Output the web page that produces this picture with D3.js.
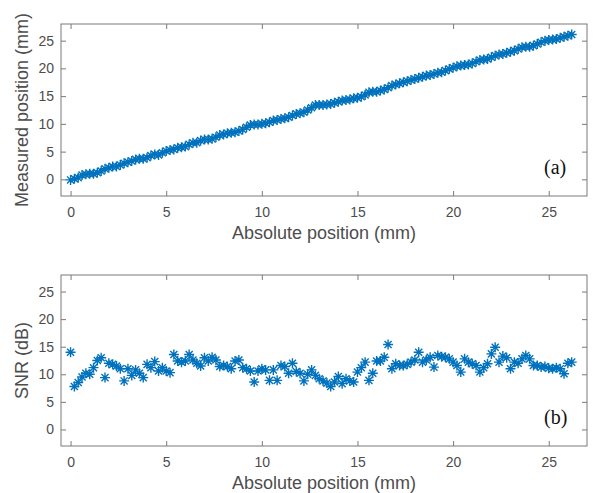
<!DOCTYPE html>
<html>
<head>
<meta charset="utf-8">
<script src="https://cdn.jsdelivr.net/npm/d3@7"></script>
<style>
    body { margin: 0; background: #fff; }
    svg { display: block; }
    .tick text { font-family: "Liberation Sans", Arial, sans-serif; font-size: 14px; fill: #4d4d4d; }
    .tick line { stroke: #7a7a7a; }
    .axis-title { font-family: "Liberation Sans", Arial, sans-serif; font-size: 18px; fill: #4d4d4d; }
    .panel-tag { font-family: "Liberation Serif", "Times New Roman", serif; font-size: 20px; fill: #111; }
</style>
</head>
<body>
<div id="chart"></div>
<script>
// absolute position (mm), shared by both panels
const absPos = [
    0.0, 0.2, 0.4, 0.6, 0.8, 1.0, 1.2, 1.4, 1.6, 1.8, 2.0, 2.2, 2.4, 2.6, 2.8, 3.0, 3.2, 3.4, 3.6, 3.8,
    4.0, 4.2, 4.4, 4.6, 4.8, 5.0, 5.2, 5.4, 5.6, 5.8, 6.0, 6.2, 6.4, 6.6, 6.8, 7.0, 7.2, 7.4, 7.6, 7.8,
    8.0, 8.2, 8.4, 8.6, 8.8, 9.0, 9.2, 9.4, 9.6, 9.8, 10.0, 10.2, 10.4, 10.6, 10.8, 11.0, 11.2, 11.4, 11.6, 11.8,
    12.0, 12.2, 12.4, 12.6, 12.8, 13.0, 13.2, 13.4, 13.6, 13.8, 14.0, 14.2, 14.4, 14.6, 14.8, 15.0, 15.2, 15.4, 15.6, 15.8,
    16.0, 16.2, 16.4, 16.6, 16.8, 17.0, 17.2, 17.4, 17.6, 17.8, 18.0, 18.2, 18.4, 18.6, 18.8, 19.0, 19.2, 19.4, 19.6, 19.8,
    20.0, 20.2, 20.4, 20.6, 20.8, 21.0, 21.2, 21.4, 21.6, 21.8, 22.0, 22.2, 22.4, 22.6, 22.8, 23.0, 23.2, 23.4, 23.6, 23.8,
    24.0, 24.2, 24.4, 24.6, 24.8, 25.0, 25.2, 25.4, 25.6, 25.8, 26.0, 26.2
]

// (a) measured position (mm)
const measuredPos = [
    -0.1, 0.1, 0.3, 0.8, 0.9, 1.0, 1.0, 1.2, 1.5, 1.9, 2.1, 2.3, 2.3, 2.6, 2.9, 3.1, 3.3, 3.6, 3.7, 3.7,
    3.9, 4.3, 4.5, 4.4, 4.8, 5.1, 5.3, 5.4, 5.7, 5.8, 5.9, 6.3, 6.6, 6.6, 7.0, 7.2, 7.2, 7.3, 7.6, 8.0,
    8.1, 8.3, 8.4, 8.5, 8.7, 9.0, 9.4, 9.8, 9.9, 9.9, 10.0, 10.1, 10.3, 10.6, 10.7, 10.9, 11.0, 11.2, 11.5, 11.8,
    11.9, 12.1, 12.5, 12.9, 13.4, 13.4, 13.4, 13.5, 13.6, 13.8, 14.0, 14.2, 14.3, 14.4, 14.6, 14.7, 14.9, 15.2, 15.7, 15.8,
    15.8, 16.0, 16.2, 16.5, 16.9, 17.1, 17.3, 17.5, 17.7, 17.9, 18.1, 18.3, 18.5, 18.7, 18.8, 19.0, 19.2, 19.3, 19.6, 19.9,
    20.1, 20.4, 20.5, 20.6, 20.7, 20.9, 21.2, 21.5, 21.6, 21.7, 22.0, 22.3, 22.5, 22.6, 22.8, 23.0, 23.2, 23.5, 23.8, 23.9,
    23.9, 24.1, 24.4, 24.7, 25.0, 25.1, 25.2, 25.3, 25.5, 25.7, 25.9, 26.1
]

// (b) SNR (dB)
const snrDb = [
    14.0, 7.8, 8.5, 9.5, 10.2, 10.0, 11.2, 12.5, 13.0, 9.4, 12.0, 11.8, 11.5, 11.0, 8.8, 11.0, 9.8, 10.8, 10.2, 9.4,
    11.8, 11.2, 12.3, 10.6, 11.2, 10.6, 10.3, 13.6, 12.4, 12.2, 12.4, 13.6, 12.6, 12.0, 11.5, 13.0, 12.4, 13.1, 12.6, 11.4,
    11.6, 11.4, 11.0, 12.4, 12.6, 11.2, 11.0, 10.6, 8.6, 10.6, 11.0, 10.8, 8.9, 10.8, 8.9, 11.6, 11.4, 10.2, 12.0, 10.5,
    10.2, 8.8, 10.0, 10.8, 9.8, 9.2, 8.8, 8.4, 7.8, 8.6, 9.6, 8.3, 9.2, 8.8, 8.6, 10.4, 11.2, 12.2, 8.9, 10.2,
    12.4, 12.4, 13.1, 15.4, 11.0, 11.9, 11.6, 11.6, 11.8, 12.2, 12.6, 14.0, 12.2, 12.6, 13.1, 11.3, 13.4, 13.2, 13.1, 12.8,
    12.2, 11.6, 10.4, 12.8, 12.2, 11.9, 11.6, 10.4, 11.2, 11.9, 13.7, 14.9, 12.2, 13.3, 13.0, 11.0, 12.2, 12.0, 12.8, 13.4,
    12.8, 11.6, 11.6, 11.3, 11.4, 11.1, 11.0, 11.2, 11.0, 10.1, 12.0, 12.2
]

const xTicks = [0, 5, 10, 15, 20, 25]
const yTicks = [0, 5, 10, 15, 20, 25]

const width = 593
const height = 493
const markerColor = "#0072bd"

const $svg = d3.select("#chart").append("svg")
    .attr("width", width)
    .attr("height", height)

// asterisk marker like matlab's "*"
function asterisk(r) {
    const d = r * Math.SQRT1_2
    return `M${-r},0L${r},0M0,${-r}L0,${r}M${-d},${-d}L${d},${d}M${-d},${d}L${d},${-d}`
}

function panel(top, bottom, yValues, yLabel, tag) {
    const left = 61
    const right = 587

    const xScale = d3.scaleLinear()
        .domain([-0.5, 27])
        .range([left, right])

    const yScale = d3.scaleLinear()
        .domain([-3, 28])
        .range([bottom, top])

    const $g = $svg.append("g")

    // ticks point inwards on all four sides
    $g.append("g")
        .attr("transform", `translate(0, ${bottom})`)
        .call(d3.axisBottom(xScale).tickValues(xTicks).tickSize(-5).tickPadding(11).tickSizeOuter(0))
        .call(g => g.select(".domain").remove())

    $g.append("g")
        .attr("transform", `translate(0, ${top})`)
        .call(d3.axisTop(xScale).tickValues(xTicks).tickSize(-5).tickFormat("").tickSizeOuter(0))
        .call(g => g.select(".domain").remove())

    $g.append("g")
        .attr("transform", `translate(${left}, 0)`)
        .call(d3.axisLeft(yScale).tickValues(yTicks).tickSize(-5).tickPadding(7).tickSizeOuter(0))
        .call(g => g.select(".domain").remove())

    $g.append("g")
        .attr("transform", `translate(${right}, 0)`)
        .call(d3.axisRight(yScale).tickValues(yTicks).tickSize(-5).tickFormat("").tickSizeOuter(0))
        .call(g => g.select(".domain").remove())

    $g.selectAll(".tick text").attr("font-family", null).attr("font-size", null)

    $g.append("rect")
        .attr("x", left)
        .attr("y", top)
        .attr("width", right - left)
        .attr("height", bottom - top)
        .attr("fill", "none")
        .attr("stroke", "#7a7a7a")
        .attr("stroke-width", 1)

    $g.selectAll(".marker")
        .data(absPos)
        .enter().append("path")
        .attr("class", "marker")
        .attr("d", asterisk(5))
        .attr("transform", (d, i) => `translate(${xScale(d)}, ${yScale(yValues[i])})`)
        .attr("fill", "none")
        .attr("stroke", markerColor)
        .attr("stroke-width", 1.4)

    $g.append("text")
        .attr("class", "axis-title")
        .attr("text-anchor", "middle")
        .attr("x", (left + right) / 2)
        .attr("y", bottom + 43)
        .text("Absolute position (mm)")

    $g.append("text")
        .attr("class", "axis-title")
        .attr("text-anchor", "middle")
        .attr("transform", `translate(28, ${(top + bottom) / 2}) rotate(-90)`)
        .text(yLabel)

    $g.append("text")
        .attr("class", "panel-tag")
        .attr("x", 544)
        .attr("y", bottom - 22)
        .text(tag)
}

panel(24, 196, measuredPos, "Measured position (mm)", "(a)")
panel(275, 446, snrDb, "SNR (dB)", "(b)")
</script>
</body>
</html>
